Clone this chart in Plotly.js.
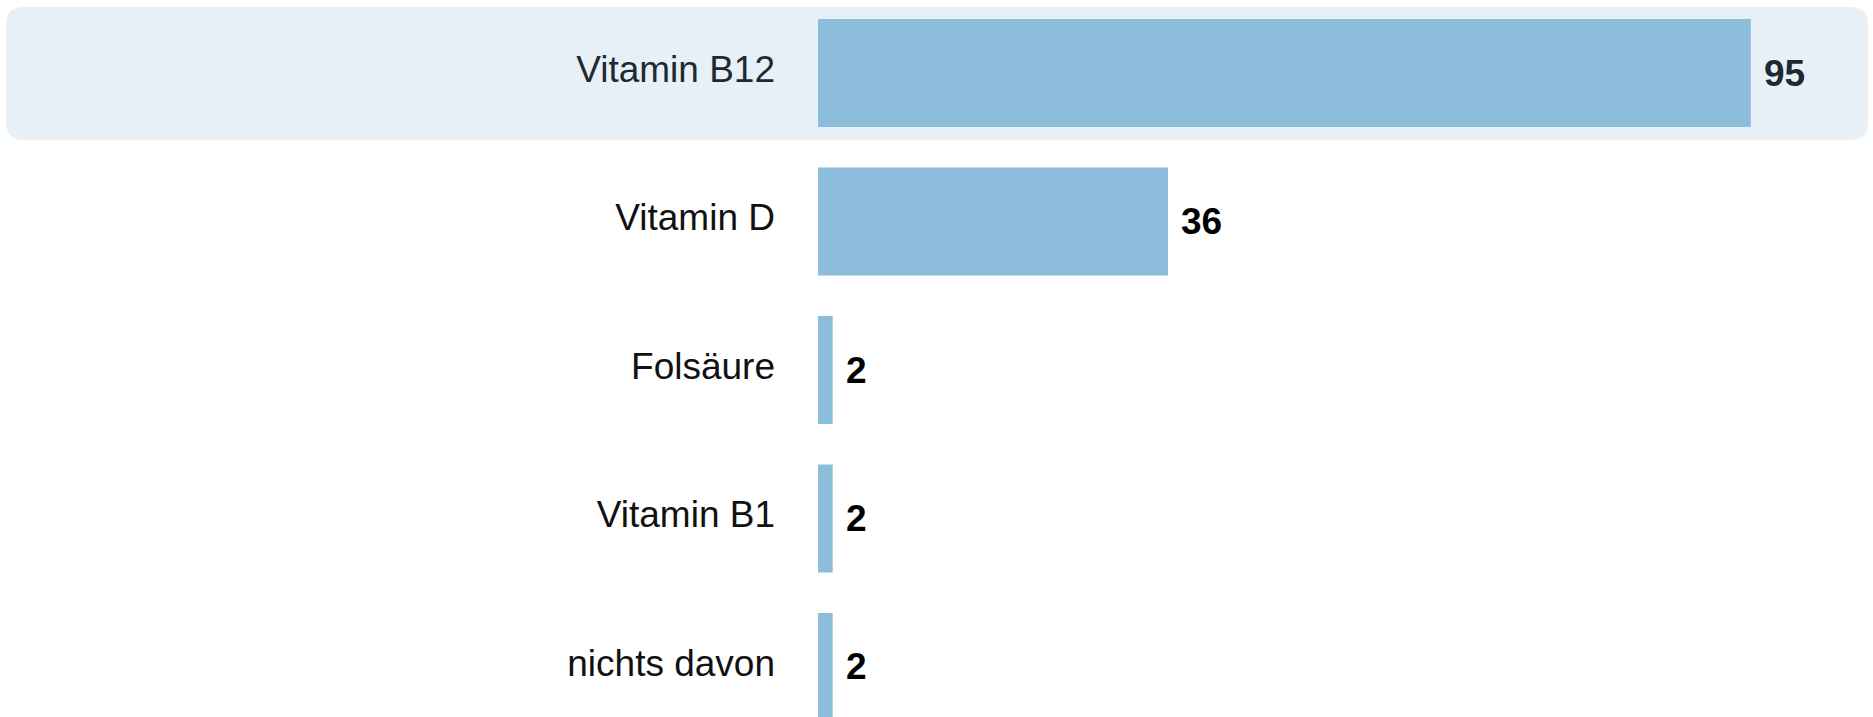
<!DOCTYPE html>
<html>
<head>
<meta charset="utf-8">
<script src="https://cdn.plot.ly/plotly-3.0.1.min.js"></script>
<style>
html,body{margin:0;padding:0;background:#fff;}
#chart{width:1873px;height:717px;}
</style>
</head>
<body>
<div id="chart"></div>
<script>
// ---- data ----
const categories = ['Vitamin B12', 'Vitamin D', 'Folsäure', 'Vitamin B1', 'nichts davon'];
const values = [95.4, 35.8, 1.5, 1.5, 1.5];
const valueLabels = ['95', '36', '2', '2', '2'];
const highlighted = 'Vitamin B12';

// ---- layout constants ----
const W = 1873, H = 717, L = 818;
const FONT = 'Liberation Sans, Arial, Helvetica, sans-serif';
const BAR = '#8cbddb';
const HL_BG = '#e8f0f7';
const HL_TXT = '#1f2933';

function X(px){ return (px - L) / (W - L); }
function Y(py){ return 1 - py / H; }
function roundedBox(x0, y0, x1, y1, r){
  return 'M' + X(x0 + r) + ',' + Y(y0) +
    ' L' + X(x1 - r) + ',' + Y(y0) +
    ' Q' + X(x1) + ',' + Y(y0) + ' ' + X(x1) + ',' + Y(y0 + r) +
    ' L' + X(x1) + ',' + Y(y1 - r) +
    ' Q' + X(x1) + ',' + Y(y1) + ' ' + X(x1 - r) + ',' + Y(y1) +
    ' L' + X(x0 + r) + ',' + Y(y1) +
    ' Q' + X(x0) + ',' + Y(y1) + ' ' + X(x0) + ',' + Y(y1 - r) +
    ' L' + X(x0) + ',' + Y(y0 + r) +
    ' Q' + X(x0) + ',' + Y(y0) + ' ' + X(x0 + r) + ',' + Y(y0) + ' Z';
}

const tickText = categories.map(c => c === highlighted
  ? '<span style="color:' + HL_TXT + '">' + c + '</span>' : c);

const annotations = categories.map((c, i) => ({
  x: values[i], y: c, xref: 'x', yref: 'y',
  text: '<b>' + valueLabels[i] + '</b>',
  showarrow: false, xanchor: 'left', yanchor: 'middle', xshift: 11,
  font: {family: FONT, size: 37, color: c === highlighted ? HL_TXT : '#000000'}
}));

const trace = {
  type: 'bar', orientation: 'h',
  x: values, y: categories,
  marker: {color: BAR, line: {width: 0}},
  hoverinfo: 'none'
};

const layout = {
  width: W, height: H,
  margin: {l: L, r: 0, t: 0, b: 0, pad: 0},
  paper_bgcolor: '#ffffff', plot_bgcolor: 'rgba(0,0,0,0)',
  showlegend: false,
  bargap: 0.273,
  font: {family: FONT, size: 37, color: '#111111'},
  xaxis: {range: [0, 107.9], visible: false, fixedrange: true},
  yaxis: {
    type: 'category', range: [4.337, -0.492],
    tickvals: categories, ticktext: tickText,
    showgrid: false, zeroline: false, showline: false, ticks: '',
    ticklabelstandoff: 42,
    ticklabelshift: 4,
    tickfont: {family: FONT, size: 37, color: '#111111'},
    fixedrange: true
  },
  shapes: [{
    type: 'path', xref: 'paper', yref: 'paper', layer: 'below',
    path: roundedBox(6, 7, 1868, 140, 18),
    fillcolor: HL_BG, line: {width: 0}
  }],
  annotations: annotations
};

Plotly.newPlot('chart', [trace], layout, {displayModeBar: false, staticPlot: true});
</script>
</body>
</html>
